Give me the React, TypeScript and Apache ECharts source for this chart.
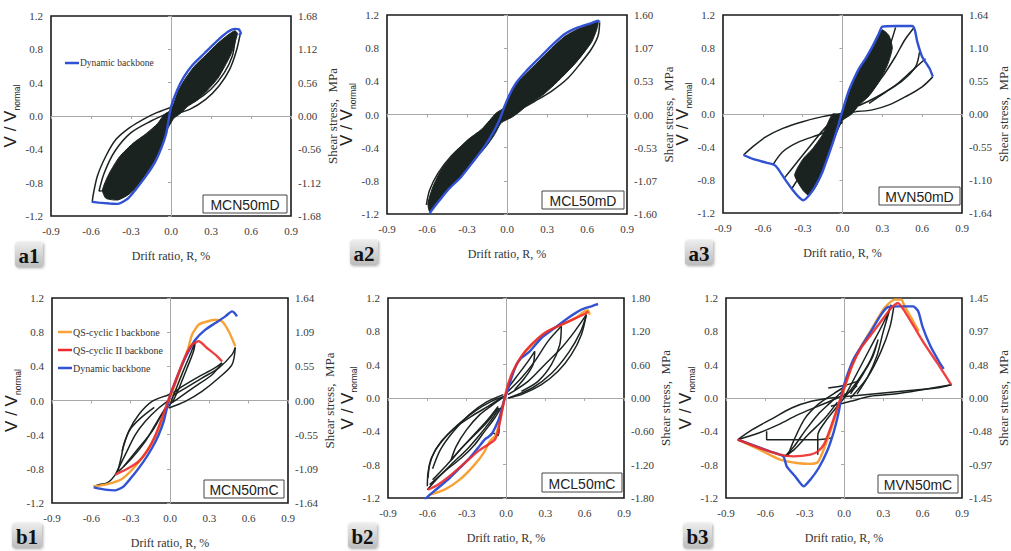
import React, { useEffect, useRef } from "react";
import * as echarts from "echarts";

// ---- tick labels ----
const xTickLabels = ["-0.9", "-0.6", "-0.3", "0.0", "0.3", "0.6", "0.9"];
const yTickLabels = ["-1.2", "-0.8", "-0.4", "0.0", "0.4", "0.8", "1.2"];
// shear stress (MPa) labels on the right axes, bottom to top
const a1Stress = ["-1.68", "-1.12", "-0.56", "0.00", "0.56", "1.12", "1.68"];
const a2Stress = ["-1.60", "-1.07", "-0.53", "0.00", "0.53", "1.07", "1.60"];
const a3Stress = ["-1.64", "-1.10", "-0.55", "0.00", "0.55", "1.10", "1.64"];
const b1Stress = ["-1.64", "-1.09", "-0.55", "0.00", "0.55", "1.09", "1.64"];
const b2Stress = ["-1.80", "-1.20", "-0.60", "0.00", "0.60", "1.20", "1.80"];
const b3Stress = ["-1.45", "-0.97", "-0.48", "0.00", "0.48", "0.97", "1.45"];

// ---- a1: MCN50mD ----
const a1Backbone = [[-0.595, -1.03], [-0.539, -1.04], [-0.46, -1.05], [-0.399, -1.055], [-0.323, -0.99], [-0.259, -0.87], [-0.183, -0.71], [-0.119, -0.55], [-0.069, -0.37], [-0.036, -0.21], [-0.018, -0.05], [0, 0.11], [0.046, 0.31], [0.097, 0.47], [0.16, 0.61], [0.249, 0.75], [0.338, 0.89], [0.427, 1.01], [0.478, 1.045], [0.508, 1.04], [0.524, 0.99], [0.508, 0.97]];
const a1Core = [[0, 0.072], [0.058, 0.312], [0.109, 0.452], [0.173, 0.592], [0.262, 0.732], [0.351, 0.872], [0.427, 0.972], [0.478, 1.024], [0.498, 0.992], [0.478, 0.872], [0.453, 0.752], [0.402, 0.592], [0.351, 0.452], [0.275, 0.312], [0.198, 0.192], [0.122, 0.112], [0.07, 0.03], [0.02, -0.03], [-0.036, -0.188], [-0.069, -0.348], [-0.12, -0.528], [-0.183, -0.688], [-0.254, -0.848], [-0.323, -0.948], [-0.399, -1.008], [-0.488, -0.988], [-0.514, -0.888], [-0.463, -0.688], [-0.386, -0.488], [-0.285, -0.328], [-0.183, -0.208], [-0.1, -0.09], [-0.05, 0.02]];
const a1LoopLowerOuter = [[0.03, 0.12], [-0.107, 0.04], [-0.208, -0.04], [-0.31, -0.14], [-0.412, -0.28], [-0.488, -0.48], [-0.552, -0.72], [-0.585, -0.96], [-0.59, -1.03]];
const a1LoopLowerInner = [[0, 0.05], [-0.15, -0.06], [-0.3, -0.2], [-0.42, -0.42], [-0.5, -0.68], [-0.54, -0.9], [-0.47, -0.88], [-0.38, -0.74], [-0.27, -0.54], [-0.15, -0.34]];
const a1LoopUpperOuter = [[0.02, 0.02], [0.14, 0.08], [0.26, 0.2], [0.36, 0.36], [0.44, 0.56], [0.49, 0.78], [0.52, 0.99]];
const a1LoopUpperInner = [[0.05, 0.1], [0.18, 0.18], [0.3, 0.32], [0.4, 0.52], [0.46, 0.72], [0.48, 0.9]];

// ---- a2: MCL50mD ----
const a2Backbone = [[-0.58, -1.19], [-0.543, -1.11], [-0.443, -0.91], [-0.343, -0.75], [-0.243, -0.545], [-0.168, -0.384], [-0.105, -0.222], [-0.055, -0.061], [-0.018, 0.101], [0.02, 0.242], [0.07, 0.384], [0.145, 0.525], [0.233, 0.667], [0.333, 0.828], [0.433, 0.97], [0.533, 1.051], [0.633, 1.103], [0.683, 1.131], [0.695, 1.111]];
const a2Core = [[-0.013, 0.101], [0.02, 0.222], [0.07, 0.364], [0.145, 0.497], [0.233, 0.634], [0.333, 0.796], [0.433, 0.941], [0.533, 1.03], [0.633, 1.091], [0.683, 1.111], [0.67, 1.01], [0.633, 0.869], [0.558, 0.707], [0.458, 0.525], [0.358, 0.364], [0.258, 0.222], [0.158, 0.121], [0.1, 0.04], [0.04, -0.03], [-0.043, -0.101], [-0.093, -0.242], [-0.155, -0.384], [-0.23, -0.525], [-0.33, -0.727], [-0.43, -0.889], [-0.53, -1.071], [-0.58, -1.172], [-0.593, -1.071], [-0.555, -0.869], [-0.493, -0.667], [-0.393, -0.465], [-0.293, -0.303], [-0.193, -0.182], [-0.13, -0.07], [-0.08, 0.02], [-0.04, 0.06]];
const a2LoopLowerOuter = [[-0.605, -1.09], [-0.58, -0.91], [-0.518, -0.71], [-0.418, -0.5], [-0.293, -0.32], [-0.168, -0.18], [-0.068, -0.08], [0.03, 0]];
const a2LoopLowerInner = [[-0.56, -1.0], [-0.53, -0.85], [-0.46, -0.68], [-0.36, -0.5], [-0.24, -0.33], [-0.12, -0.17]];
const a2LoopUpperOuter = [[0.695, 1.11], [0.683, 0.95], [0.633, 0.79], [0.558, 0.63], [0.458, 0.44], [0.333, 0.28], [0.208, 0.16], [0.095, 0.06], [0, 0]];
const a2LoopUpperInner = [[0.64, 1.0], [0.6, 0.82], [0.52, 0.64], [0.42, 0.48], [0.3, 0.32], [0.16, 0.17]];

// ---- a3: MVN50mD ----
const a3Backbone = [[-0.745, -0.497], [-0.675, -0.545], [-0.575, -0.59], [-0.513, -0.618], [-0.488, -0.659], [-0.438, -0.78], [-0.375, -0.921], [-0.325, -1.014], [-0.295, -1.046], [-0.25, -0.982], [-0.2, -0.861], [-0.15, -0.699], [-0.105, -0.497], [-0.07, -0.335], [-0.038, -0.174], [-0.01, -0.012], [0.013, 0.109], [0.045, 0.271], [0.088, 0.432], [0.125, 0.554], [0.175, 0.675], [0.225, 0.816], [0.275, 0.978], [0.3, 1.059], [0.4, 1.067], [0.525, 1.067], [0.545, 1.018], [0.563, 0.877], [0.6, 0.695], [0.655, 0.554], [0.68, 0.453]];
const a3Core = [[-0.01, -0.01], [0.013, 0.11], [0.045, 0.27], [0.088, 0.43], [0.125, 0.55], [0.175, 0.67], [0.225, 0.81], [0.27, 0.95], [0.3, 1.02], [0.35, 0.95], [0.375, 0.8], [0.34, 0.6], [0.275, 0.39], [0.2, 0.22], [0.12, 0.1], [0.07, 0.0], [0.0, -0.08], [-0.07, -0.33], [-0.1, -0.48], [-0.15, -0.69], [-0.19, -0.85], [-0.23, -0.95], [-0.26, -0.98], [-0.3, -0.92], [-0.36, -0.74], [-0.3, -0.55], [-0.225, -0.42], [-0.15, -0.25], [-0.075, 0.0]];
const a3LoopRightTip = [[0.1, 0.03], [0.225, 0.05], [0.35, 0.11], [0.475, 0.21], [0.6, 0.33], [0.68, 0.45]];
const a3LoopRightMid = [[0.12, 0.1], [0.25, 0.2], [0.4, 0.35], [0.52, 0.52], [0.625, 0.67]];
const a3LoopPlateau = [[0.1, 0.1], [0.2, 0.25], [0.3, 0.45], [0.4, 0.7], [0.47, 0.9], [0.535, 1.04]];
const a3LoopPlateauInner = [[0.05, 0.05], [0.18, 0.3], [0.28, 0.55], [0.35, 0.8], [0.4, 1.05]];
const a3LoopShoulder = [[0.2, 0.13], [0.32, 0.26], [0.45, 0.4], [0.55, 0.57], [0.58, 0.75]];
const a3LoopLeftOuter = [[0.1, 0.028], [0, 0.008], [-0.15, -0.032], [-0.3, -0.093], [-0.45, -0.174], [-0.575, -0.275], [-0.675, -0.396], [-0.745, -0.497]];
const a3LoopLeftInner = [[-0.525, -0.618], [-0.45, -0.457], [-0.325, -0.335], [-0.15, -0.234], [0, -0.1]];
const a3LoopLeftSteep = [[-0.44, -0.78], [-0.35, -0.6], [-0.25, -0.4], [-0.12, -0.15], [0, 0]];
const a3LoopLeftDeep = [[-0.38, -0.9], [-0.3, -0.7], [-0.22, -0.5], [-0.1, -0.2]];

// ---- b1: MCN50mC ----
const b1Dynamic = [[-0.582, -1.017], [-0.493, -1.044], [-0.417, -1.052], [-0.353, -1.005], [-0.277, -0.868], [-0.201, -0.712], [-0.137, -0.556], [-0.086, -0.4], [-0.048, -0.244], [-0.023, -0.088], [0.003, 0.068], [0.041, 0.224], [0.092, 0.42], [0.142, 0.576], [0.193, 0.712], [0.27, 0.829], [0.346, 0.907], [0.422, 0.985], [0.473, 1.044], [0.493, 1.024], [0.511, 0.985]];
const b1QsI = [[-0.582, -1.005], [-0.493, -0.985], [-0.392, -0.939], [-0.341, -0.888], [-0.26, -0.76], [-0.18, -0.6], [-0.11, -0.42], [-0.05, -0.2], [0.0, 0.02], [0.05, 0.24], [0.1, 0.44], [0.14, 0.62], [0.168, 0.771], [0.219, 0.888], [0.27, 0.919], [0.346, 0.946], [0.397, 0.927], [0.448, 0.81], [0.498, 0.634]];
const b1QsII = [[-0.417, -0.868], [-0.315, -0.79], [-0.239, -0.712], [-0.17, -0.58], [-0.11, -0.4], [-0.06, -0.2], [-0.01, 0.02], [0.04, 0.22], [0.09, 0.42], [0.13, 0.56], [0.168, 0.654], [0.219, 0.693], [0.282, 0.615], [0.346, 0.537], [0.397, 0.459]];
const b1LoopOutUp = [[-0.01, 0.029], [0.117, 0.146], [0.244, 0.263], [0.371, 0.38], [0.473, 0.537], [0.498, 0.62]];
const b1LoopOutDown = [[0.498, 0.62], [0.473, 0.42], [0.371, 0.263], [0.244, 0.107], [0.117, -0.01], [-0.01, -0.088]];
const b1LoopMidDown = [[0.397, 0.44], [0.321, 0.302], [0.193, 0.166], [0.066, 0.029], [-0.01, -0.049]];
const b1LoopMidUp = [[0.0, 0.06], [0.1, 0.17], [0.22, 0.28], [0.33, 0.37], [0.397, 0.44]];
const b1LoopSteep = [[0.0, -0.05], [0.05, 0.15], [0.11, 0.38], [0.16, 0.56], [0.193, 0.69], [0.18, 0.58], [0.13, 0.38], [0.07, 0.15], [0.02, -0.02]];
const b1LoopNegUpper = [[-0.366, -0.595], [-0.315, -0.361], [-0.239, -0.166], [-0.137, -0.01], [-0.01, 0.068], [0.06, 0.12]];
const b1LoopNegOuter = [[-0.417, -0.868], [-0.341, -0.634], [-0.264, -0.4], [-0.188, -0.244], [-0.086, -0.088], [0.015, 0.029]];
const b1LoopNegLower = [[-0.392, -0.83], [-0.29, -0.673], [-0.188, -0.478], [-0.112, -0.283], [-0.036, -0.088]];
const b1LoopNegInner = [[-0.353, -0.771], [-0.239, -0.556], [-0.137, -0.361], [-0.061, -0.166], [0, -0.05]];
const b1LoopNegSteep = [[-0.4, -0.84], [-0.37, -0.65], [-0.35, -0.5], [-0.3, -0.33], [-0.22, -0.2], [-0.12, -0.08]];
const b1LoopTail = [[-0.582, -1.005], [-0.53, -0.98], [-0.49, -0.97], [-0.45, -0.93], [-0.417, -0.868]];

// ---- b2: MCL50mC ----
const b2Dynamic = [[-0.62, -1.22], [-0.595, -1.18], [-0.519, -1.08], [-0.43, -0.96], [-0.353, -0.84], [-0.277, -0.72], [-0.214, -0.6], [-0.163, -0.5], [-0.112, -0.44], [-0.061, -0.28], [-0.036, -0.16], [-0.01, 0], [0.01, 0.08], [0.041, 0.24], [0.079, 0.4], [0.117, 0.48], [0.181, 0.56], [0.27, 0.72], [0.371, 0.84], [0.473, 0.96], [0.575, 1.06], [0.651, 1.1], [0.702, 1.128]];
const b2QsI = [[-0.582, -1.16], [-0.468, -1.1], [-0.353, -0.98], [-0.239, -0.8], [-0.163, -0.64], [-0.125, -0.52], [-0.08, -0.45], [-0.05, -0.3], [-0.03, -0.15], [-0.01, 0], [0.02, 0.16], [0.06, 0.33], [0.12, 0.5], [0.2, 0.64], [0.3, 0.78], [0.42, 0.88], [0.52, 0.95], [0.6, 1.04], [0.626, 1.05], [0.638, 1.0]];
const b2QsII = [[-0.595, -1.1], [-0.519, -1.04], [-0.417, -0.92], [-0.315, -0.78], [-0.214, -0.64], [-0.137, -0.56], [-0.086, -0.5], [-0.061, -0.4], [-0.036, -0.2], [-0.01, 0], [0.015, 0.16], [0.053, 0.32], [0.117, 0.5], [0.193, 0.64], [0.295, 0.78], [0.422, 0.88], [0.524, 0.952], [0.613, 1.02], [0.626, 1.04]];
const b2LoopOutUp = [[0.015, 0.04], [0.168, 0.2], [0.295, 0.4], [0.422, 0.6], [0.524, 0.8], [0.613, 1.0]];
const b2LoopOutDown = [[0.613, 1.0], [0.575, 0.76], [0.498, 0.52], [0.397, 0.32], [0.27, 0.16], [0.117, 0.04], [0.015, 0]];
const b2LoopOutInner = [[0.02, 0.0], [0.2, 0.12], [0.35, 0.3], [0.48, 0.55], [0.57, 0.8], [0.61, 0.98]];
const b2LoopMidUp = [[0.015, 0.08], [0.117, 0.24], [0.219, 0.44], [0.32, 0.68], [0.422, 0.86]];
const b2LoopMidDown = [[0.422, 0.86], [0.41, 0.64], [0.346, 0.4], [0.244, 0.2], [0.117, 0.08]];
const b2LoopSmall = [[0.015, 0.12], [0.092, 0.28], [0.168, 0.44], [0.219, 0.56], [0.206, 0.4], [0.142, 0.24], [0.066, 0.1]];
const b2LoopNegUpper = [[-0.01, 0.02], [-0.112, -0.04], [-0.239, -0.16], [-0.366, -0.32], [-0.468, -0.48], [-0.544, -0.64], [-0.582, -0.8], [-0.595, -0.96]];
const b2LoopNegOuter = [[-0.036, 0], [-0.137, -0.1], [-0.264, -0.22], [-0.392, -0.36], [-0.493, -0.52], [-0.569, -0.72], [-0.595, -0.9], [-0.6, -1.06]];
const b2LoopNegBranch = [[-0.02, 0.04], [-0.15, -0.05], [-0.28, -0.2], [-0.4, -0.4], [-0.5, -0.62], [-0.56, -0.85]];
const b2LoopNegLower = [[-0.582, -1.04], [-0.468, -0.88], [-0.341, -0.72], [-0.239, -0.56], [-0.163, -0.4], [-0.086, -0.24], [-0.023, -0.08]];
const b2LoopNegReturn = [[-0.6, -1.1], [-0.52, -0.96], [-0.42, -0.8], [-0.3, -0.62], [-0.2, -0.44], [-0.12, -0.28], [-0.05, -0.12]];
const b2LoopNegUnload = [[-0.56, -0.98], [-0.45, -0.8], [-0.35, -0.62], [-0.25, -0.45], [-0.15, -0.28], [-0.06, -0.1]];
const b2LoopNegMid = [[0, 0.03], [-0.1, -0.08], [-0.2, -0.2], [-0.3, -0.38], [-0.38, -0.58], [-0.42, -0.75], [-0.35, -0.62], [-0.25, -0.46], [-0.15, -0.3], [-0.06, -0.12]];
const b2LoopStep = [[-0.14, -0.48], [-0.1, -0.42], [-0.06, -0.45], [-0.05, -0.3], [-0.03, -0.12]];

// ---- b3: MVN50mC ----
const b3Dynamic = [[-0.81, -0.5], [-0.668, -0.58], [-0.566, -0.64], [-0.463, -0.7], [-0.437, -0.82], [-0.373, -0.94], [-0.308, -1.06], [-0.257, -0.98], [-0.193, -0.84], [-0.129, -0.64], [-0.077, -0.4], [-0.039, -0.16], [-0.013, 0.08], [0.026, 0.28], [0.077, 0.48], [0.141, 0.64], [0.206, 0.8], [0.283, 1.0], [0.334, 1.09], [0.411, 1.1], [0.527, 1.1], [0.566, 1.04], [0.6, 0.85], [0.66, 0.62], [0.72, 0.45], [0.76, 0.35]];
const b3QsI = [[-0.81, -0.5], [-0.643, -0.62], [-0.488, -0.74], [-0.36, -0.78], [-0.257, -0.79], [-0.2, -0.77], [-0.15, -0.6], [-0.1, -0.38], [-0.05, -0.14], [0, 0.1], [0.06, 0.38], [0.13, 0.62], [0.2, 0.8], [0.308, 1.08], [0.386, 1.18], [0.437, 1.18], [0.463, 1.1], [0.514, 0.96], [0.57, 0.8]];
const b3QsII = [[-0.81, -0.5], [-0.643, -0.6], [-0.488, -0.68], [-0.386, -0.7], [-0.257, -0.68], [-0.2, -0.64], [-0.15, -0.55], [-0.103, -0.36], [-0.051, -0.12], [0, 0.12], [0.064, 0.4], [0.129, 0.6], [0.206, 0.76], [0.283, 0.92], [0.36, 1.08], [0.411, 1.14], [0.463, 1.04], [0.54, 0.84], [0.617, 0.64], [0.72, 0.4], [0.817, 0.16]];
const b3LoopLongOut = [[-0.81, -0.5], [-0.7, -0.38], [-0.55, -0.25], [-0.4, -0.12], [-0.25, -0.04], [-0.1, 0.0], [0.1, 0.03], [0.3, 0.06], [0.5, 0.09], [0.7, 0.12], [0.82, 0.16]];
const b3LoopLongBack = [[0.82, 0.16], [0.6, 0.1], [0.4, 0.05], [0.2, 0.02], [0.05, -0.04], [-0.1, -0.1]];
const b3LoopFlatNeg = [[-0.59, -0.4], [-0.59, -0.5], [-0.4, -0.5], [-0.2, -0.5], [-0.1, -0.48]];
const b3LoopLeftRise = [[-0.81, -0.5], [-0.65, -0.42], [-0.5, -0.32], [-0.35, -0.2], [-0.2, -0.1], [-0.05, 0.0], [0.05, 0.08], [0.1, 0.15]];
const b3LoopPosOuter = [[0, 0], [0.1, 0.3], [0.2, 0.6], [0.3, 0.9], [0.36, 1.12], [0.3, 0.8], [0.25, 0.5], [0.18, 0.25], [0.1, 0.05]];
const b3LoopPosMid = [[0.05, 0.0], [0.18, 0.25], [0.28, 0.55], [0.35, 0.85], [0.38, 1.1]];
const b3LoopPosInner = [[-0.05, -0.1], [0.1, 0.2], [0.2, 0.45], [0.26, 0.7], [0.22, 0.5], [0.15, 0.3], [0.05, 0.05]];
const b3LoopNegOuter = [[0, 0.1], [-0.1, -0.05], [-0.2, -0.2], [-0.3, -0.4], [-0.38, -0.58], [-0.45, -0.7], [-0.38, -0.62], [-0.28, -0.45], [-0.15, -0.25], [-0.05, -0.05]];
const b3LoopNegMid = [[0.02, 0.15], [-0.08, 0.05], [-0.2, -0.08], [-0.3, -0.25], [-0.38, -0.5], [-0.43, -0.7]];
const b3LoopNegStep = [[-0.2, -0.68], [-0.2, -0.45], [-0.15, -0.3], [-0.05, -0.1]];
const b3LoopTop = [[-0.12, 0.12], [0, 0.15], [0.1, 0.2]];

const DYN = "Dynamic backbone";
const QS1 = "QS-cyclic I backbone";
const QS2 = "QS-cyclic II backbone";

const INK = "#1b2321";
const BLUE = "#3152d4";
const ORANGE = "#f6a236";
const RED = "#ec2b2b";
const SERIF = "Liberation Serif";
const SANS = "Liberation Sans";

type Pt = number[];
type PanelData = {
  core?: Pt[];
  loops: Pt[][];
  dynamic: Pt[];
  qs1?: Pt[];
  qs2?: Pt[];
};

const panelData: PanelData[] = [
  { core: a1Core, loops: [a1LoopLowerOuter, a1LoopLowerInner, a1LoopUpperOuter, a1LoopUpperInner], dynamic: a1Backbone },
  { core: a2Core, loops: [a2LoopLowerOuter, a2LoopLowerInner, a2LoopUpperOuter, a2LoopUpperInner], dynamic: a2Backbone },
  { core: a3Core, loops: [a3LoopRightTip, a3LoopRightMid, a3LoopPlateau, a3LoopPlateauInner, a3LoopShoulder, a3LoopLeftOuter, a3LoopLeftInner, a3LoopLeftSteep, a3LoopLeftDeep], dynamic: a3Backbone },
  { loops: [b1LoopOutUp, b1LoopOutDown, b1LoopMidDown, b1LoopMidUp, b1LoopSteep, b1LoopNegUpper, b1LoopNegOuter, b1LoopNegLower, b1LoopNegInner, b1LoopNegSteep, b1LoopTail], dynamic: b1Dynamic, qs1: b1QsI, qs2: b1QsII },
  { loops: [b2LoopOutUp, b2LoopOutDown, b2LoopOutInner, b2LoopMidUp, b2LoopMidDown, b2LoopSmall, b2LoopNegUpper, b2LoopNegOuter, b2LoopNegBranch, b2LoopNegLower, b2LoopNegReturn, b2LoopNegUnload, b2LoopNegMid, b2LoopStep], dynamic: b2Dynamic, qs1: b2QsI, qs2: b2QsII },
  { loops: [b3LoopLongOut, b3LoopLongBack, b3LoopFlatNeg, b3LoopLeftRise, b3LoopPosOuter, b3LoopPosMid, b3LoopPosInner, b3LoopNegOuter, b3LoopNegMid, b3LoopNegStep, b3LoopTop], dynamic: b3Dynamic, qs1: b3QsI, qs2: b3QsII },
];

// panel layout: plot rectangle, specimen tag box, panel badge box
const panels = [
  { grid: { left: 51, top: 16, width: 240, height: 200 }, stress: a1Stress, tag: "MCN50mD", tagBox: [203, 195, 84, 18], badge: "a1", badgeBox: [15, 242, 28, 25] },
  { grid: { left: 387, top: 15, width: 240, height: 199 }, stress: a2Stress, tag: "MCL50mD", tagBox: [542, 191, 82, 18], badge: "a2", badgeBox: [350, 240, 28, 25] },
  { grid: { left: 723, top: 15, width: 240, height: 198 }, stress: a3Stress, tag: "MVN50mD", tagBox: [879, 187, 81, 18], badge: "a3", badgeBox: [685, 240, 28, 25] },
  { grid: { left: 52, top: 298, width: 236, height: 205 }, stress: b1Stress, tag: "MCN50mC", tagBox: [204, 480, 80, 18], badge: "b1", badgeBox: [12, 523, 30, 25] },
  { grid: { left: 388, top: 298, width: 236, height: 200 }, stress: b2Stress, tag: "MCL50mC", tagBox: [542, 473, 80, 19], badge: "b2", badgeBox: [348, 523, 29, 25] },
  { grid: { left: 726, top: 298, width: 238, height: 200 }, stress: b3Stress, tag: "MVN50mC", tagBox: [878, 475, 80, 18], badge: "b3", badgeBox: [683, 523, 29, 25] },
];

const tickIndex = (v: number, min: number, step: number) => Math.round((v - min) / step);

function buildOption() {
  const grid: any[] = [];
  const xAxis: any[] = [];
  const yAxis: any[] = [];
  const series: any[] = [];
  const graphic: any[] = [];

  panels.forEach((p, i) => {
    grid.push({ ...p.grid, show: true, borderColor: "#1a1a1a", borderWidth: 1.6, backgroundColor: "transparent" });

    xAxis.push({
      type: "value", gridIndex: i, position: "bottom", min: -0.9, max: 0.9, interval: 0.3,
      axisLine: { show: false, onZero: false }, axisTick: { show: false }, splitLine: { show: false },
      axisLabel: { formatter: (v: number) => xTickLabels[tickIndex(v, -0.9, 0.3)], fontFamily: SERIF, fontSize: 11, color: "#3a3a3a", margin: 9 },
      name: "Drift ratio, R, %", nameLocation: "middle", nameGap: 34,
      nameTextStyle: { fontFamily: SERIF, fontSize: 12, color: "#333" },
    });
    xAxis.push({
      type: "value", gridIndex: i, position: "bottom", min: -0.9, max: 0.9, interval: 0.3,
      axisLine: { show: true, onZero: true, lineStyle: { color: "#a8a8a8", width: 1 } },
      axisTick: { show: true, length: 3, lineStyle: { color: "#a8a8a8" } },
      axisLabel: { show: false }, splitLine: { show: false },
    });

    yAxis.push({
      type: "value", gridIndex: i, position: "left", min: -1.2, max: 1.2, interval: 0.4,
      axisLine: { show: false, onZero: false }, axisTick: { show: false }, splitLine: { show: false },
      axisLabel: { formatter: (v: number) => yTickLabels[tickIndex(v, -1.2, 0.4)], fontFamily: SERIF, fontSize: 11, color: "#3a3a3a", margin: 8 },
      name: "{v|V / V}{s|normal}", nameLocation: "middle", nameGap: 24, nameRotate: 90,
      nameTextStyle: {
        rich: {
          v: { fontFamily: SANS, fontSize: 17, color: "#222", lineHeight: 22, verticalAlign: "middle" },
          s: { fontFamily: SANS, fontSize: 8.5, color: "#222", lineHeight: 10, verticalAlign: "bottom" },
        },
      },
    });
    yAxis.push({
      type: "value", gridIndex: i, position: "right", min: -1.2, max: 1.2, interval: 0.4,
      axisLine: { show: false, onZero: false }, axisTick: { show: false }, splitLine: { show: false },
      axisLabel: { formatter: (v: number) => p.stress[tickIndex(v, -1.2, 0.4)], fontFamily: SERIF, fontSize: 11, color: "#3a3a3a", margin: 7 },
      name: "Shear stress,  MPa", nameLocation: "middle", nameGap: 35, nameRotate: 90,
      nameTextStyle: { fontFamily: SERIF, fontSize: 13, color: "#333" },
    });
    yAxis.push({
      type: "value", gridIndex: i, position: "left", min: -1.2, max: 1.2, interval: 0.4,
      axisLine: { show: true, onZero: true, lineStyle: { color: "#a8a8a8", width: 1 } },
      axisTick: { show: true, length: 3, lineStyle: { color: "#a8a8a8" } },
      axisLabel: { show: false }, splitLine: { show: false },
    });

    const d = panelData[i];
    const xi = 2 * i;
    const yi = 3 * i;
    const core = d.core;
    if (core) {
      series.push({
        type: "custom", xAxisIndex: xi, yAxisIndex: yi, data: core, encode: { x: 0, y: 1 },
        clip: true, silent: true, z: 2,
        renderItem: (params: any, api: any) => {
          if (params.dataIndex !== 0) return null;
          return {
            type: "polygon",
            shape: { points: core.map((pt) => api.coord(pt)), smooth: 0.2 },
            style: { fill: INK, stroke: INK, lineWidth: 1 },
          };
        },
      });
    }
    d.loops.forEach((loop) => {
      series.push({
        type: "line", xAxisIndex: xi, yAxisIndex: yi, data: loop, showSymbol: false, symbol: "none",
        smooth: 0.3, clip: true, silent: true, z: 3,
        lineStyle: { color: INK, width: 1.5 },
      });
    });
    const colored: [string, Pt[] | undefined, string, number][] = [
      [QS1, d.qs1, ORANGE, 4],
      [DYN, d.dynamic, BLUE, 5],
      [QS2, d.qs2, RED, 6],
    ];
    colored.forEach(([name, data, color, z]) => {
      if (!data) return;
      series.push({
        name, type: "line", xAxisIndex: xi, yAxisIndex: yi, data, showSymbol: false, symbol: "none",
        smooth: 0.2, clip: true, silent: true, z,
        lineStyle: { color, width: 2.4, opacity: name === QS2 ? 0.9 : 1 },
      });
    });

    // specimen tag
    const [tx, ty, tw, th] = p.tagBox;
    graphic.push({ type: "rect", z: 20, shape: { x: tx, y: ty, width: tw, height: th }, style: { fill: "#fff", stroke: "#444", lineWidth: 1 } });
    graphic.push({
      type: "text", z: 21, x: tx + tw / 2, y: ty + th / 2 + 1,
      style: { text: p.tag, fontFamily: SANS, fontSize: 14, fill: "#222", align: "center", verticalAlign: "middle", textAlign: "center", textVerticalAlign: "middle" },
    });

    // panel badge
    const [bx, by, bw, bh] = p.badgeBox;
    graphic.push({
      type: "rect", z: 20, shape: { x: bx, y: by, width: bw, height: bh, r: 3 },
      style: {
        fill: new echarts.graphic.LinearGradient(0, 0, 0, 1, [
          { offset: 0, color: "#ededed" },
          { offset: 1, color: "#bcbcbc" },
        ]),
        shadowBlur: 3, shadowColor: "rgba(0,0,0,0.35)", shadowOffsetX: 1, shadowOffsetY: 1,
      },
    });
    graphic.push({
      type: "text", z: 21, x: bx + bw / 2, y: by + bh / 2 + 1,
      style: { text: p.badge, fontFamily: SERIF, fontWeight: "bold", fontSize: 21, fill: "#111", align: "center", verticalAlign: "middle", textAlign: "center", textVerticalAlign: "middle" },
    });
  });

  // legends
  const legendRows: [string, string, number, number, number][] = [
    [DYN, BLUE, 65, 63, 9.5],
    [QS1, ORANGE, 58, 332, 10],
    [QS2, RED, 58, 350, 10],
    [DYN, BLUE, 58, 368, 10],
  ];
  legendRows.forEach(([label, color, lx, ly, fs]) => {
    graphic.push({ type: "line", z: 20, shape: { x1: lx, y1: ly, x2: lx + 14, y2: ly }, style: { stroke: color, lineWidth: 2.5 } });
    graphic.push({
      type: "text", z: 20, x: lx + 15, y: ly,
      style: { text: label, fontFamily: SERIF, fontSize: fs, fill: "#333", align: "left", verticalAlign: "middle", textAlign: "left", textVerticalAlign: "middle" },
    });
  });

  return { animation: false, backgroundColor: "#ffffff", grid, xAxis, yAxis, series, graphic };
}

export default function App() {
  const ref = useRef<HTMLDivElement>(null);
  useEffect(() => {
    if (!ref.current) return;
    const chart = echarts.init(ref.current, undefined, { renderer: "svg" });
    chart.setOption(buildOption() as any);
    return () => chart.dispose();
  }, []);
  return <div ref={ref} style={{ position: "fixed", left: 0, top: 0, width: 1011, height: 551, background: "#fff" }} />;
}
